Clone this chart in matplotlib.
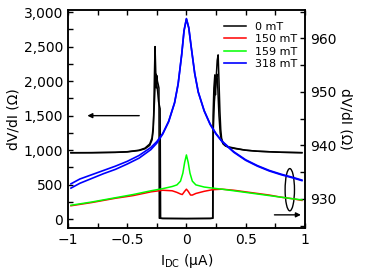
import numpy as np
import matplotlib
matplotlib.use('Agg')
import matplotlib.pyplot as plt
from matplotlib.patches import Ellipse
from matplotlib.ticker import MultipleLocator

# 0 mT, left axis, two sweeps
x_0mT_a = [-0.975, -0.8, -0.6, -0.5, -0.4, -0.35, -0.31, -0.29, -0.28, -0.275, -0.27, -0.265,
           -0.26, -0.255, -0.25, -0.245, -0.238, -0.232, -0.229, -0.2, 0.0, 0.2, 0.222,
           0.225, 0.232, 0.24, 0.245, 0.25, 0.26, 0.268, 0.275, 0.283, 0.29, 0.297,
           0.31, 0.325, 0.35, 0.41, 0.5, 0.6, 0.8, 0.975]
y_0mT_a = [962, 963, 968, 975, 995, 1020, 1070, 1150, 1300, 1600, 2100, 2500,
           2200, 1900, 2080, 2000, 1950, 1900, 15, 12, 10, 12, 15,
           1500, 1900, 2090, 1800, 2000, 2300, 2380, 2000, 1560, 1300, 1174,
           1100, 1077, 1050, 1029, 1000, 985, 970, 965]
x_0mT_b = [-0.975, -0.8, -0.6, -0.5, -0.4, -0.35, -0.31, -0.29, -0.28, -0.27, -0.262,
           -0.255, -0.25, -0.243, -0.235, -0.222, -0.218, -0.2, 0.0, 0.2, 0.224,
           0.227, 0.236, 0.245, 0.252, 0.258, 0.265, 0.275, 0.285, 0.295, 0.31,
           0.33, 0.36, 0.42, 0.5, 0.6, 0.8, 0.975]
y_0mT_b = [964, 965, 970, 978, 1000, 1030, 1090, 1180, 1350, 1700, 2050,
           2100, 1950, 1850, 1700, 1600, 15, 12, 10, 12, 15,
           1300, 1700, 1900, 2060, 2100, 1900, 1500, 1250, 1150, 1090,
           1060, 1040, 1020, 1000, 985, 970, 963]

# right axis curves
x_318 = [-0.975, -0.9, -0.8, -0.7, -0.6, -0.5, -0.4, -0.3, -0.25, -0.2, -0.15, -0.1, -0.07,
         -0.04, -0.02, 0.0, 0.02, 0.04, 0.07, 0.1, 0.15, 0.2, 0.25, 0.3, 0.4, 0.5, 0.6,
         0.7, 0.8, 0.9, 0.975]
y_318_a = [932.8, 933.7, 934.5, 935.3, 936.1, 937.0, 938.1, 939.6, 940.7, 942.2, 944.5, 948.0,
           951.5, 957.0, 961.5, 963.7, 962.0, 958.5, 953.5, 950.0, 946.5, 944.0, 942.2,
           940.8, 938.8, 937.3, 936.2, 935.3, 934.6, 934.0, 933.5]
y_318_b = [932.0, 932.9, 933.8, 934.7, 935.5, 936.5, 937.6, 939.2, 940.4, 942.1, 944.4, 947.9,
           951.4, 956.9, 961.4, 963.6, 961.9, 958.4, 953.4, 949.9, 946.4, 943.9, 942.1,
           940.7, 938.7, 937.2, 936.1, 935.2, 934.5, 933.9, 933.4]

x_150 = [-0.975, -0.8, -0.6, -0.45, -0.3, -0.2, -0.12, -0.08, -0.05, -0.035, -0.015, 0.0,
         0.015, 0.035, 0.05, 0.08, 0.15, 0.22, 0.3, 0.4, 0.5, 0.6, 0.7, 0.8, 0.9, 0.975]
y_150 = [928.7, 929.3, 930.1, 930.6, 931.3, 931.6, 931.5, 931.2, 930.9, 930.8, 931.4, 931.8,
         931.4, 930.7, 930.7, 931.0, 931.4, 931.7, 931.8, 931.6, 931.3, 931.0, 930.7,
         930.3, 930.0, 929.7]

x_159 = [-0.975, -0.8, -0.6, -0.45, -0.3, -0.2, -0.12, -0.08, -0.05, -0.03, -0.015, 0.0,
         0.015, 0.03, 0.05, 0.08, 0.15, 0.22, 0.3, 0.4, 0.5, 0.6, 0.7, 0.8, 0.9, 0.975]
y_159 = [928.8, 929.4, 930.2, 930.8, 931.5, 931.9, 932.3, 932.6, 933.3, 934.8, 936.8, 938.2,
         936.8, 934.8, 933.3, 932.6, 932.2, 932.0, 931.8, 931.5, 931.2, 930.9, 930.6,
         930.3, 930.0, 929.8]

xticks = [-1, -0.5, 0, 0.5, 1]
xticklabels = ['\u22121', '\u22120.5', '0', '0.5', '1']
yticks_left = [0, 500, 1000, 1500, 2000, 2500, 3000]
yticklabels_left = ['0', '500', '1,000', '1,500', '2,000', '2,500', '3,000']
yticks_right = [930, 940, 950, 960]

plt.rcParams['font.family'] = 'DejaVu Sans'
plt.rcParams['axes.linewidth'] = 1.1

fig = plt.figure(figsize=(3.82, 2.77), dpi=100)
ax = fig.add_axes([0.178, 0.178, 0.62, 0.786])
ax2 = ax.twinx()

l0, = ax.plot(x_0mT_a, y_0mT_a, color='black', lw=1.1, label='0 mT')
ax.plot(x_0mT_b, y_0mT_b, color='black', lw=1.1)

l1, = ax2.plot(x_150, y_150, color='red', lw=1.1, label='150 mT')
l2, = ax2.plot(x_159, y_159, color='lime', lw=1.1, label='159 mT')
l3, = ax2.plot(x_318, y_318_a, color='blue', lw=1.2, label='318 mT')
ax2.plot(x_318, y_318_b, color='blue', lw=1.2)

ax.set_xlim(-1, 1)
ax.set_ylim(-122, 3030)
ax2.set_ylim(924.6, 965.3)

ax.set_xticks(xticks)
ax.set_xticklabels(xticklabels)
ax.xaxis.set_minor_locator(MultipleLocator(0.25))
ax.set_yticks(yticks_left)
ax.set_yticklabels(yticklabels_left)
ax.yaxis.set_minor_locator(MultipleLocator(250))
ax2.set_yticks(yticks_right)
ax2.yaxis.set_minor_locator(MultipleLocator(5))

ax.tick_params(which='both', direction='in', top=True, labelsize=10, length=3.5, width=1)
ax2.tick_params(which='both', direction='in', labelsize=10, length=3.5, width=1)

ax.set_xlabel(r'I$_\mathrm{DC}$ ($\mathrm{\mu}$A)', fontsize=10, labelpad=4)
ax.set_ylabel('dV/dI (\u03a9)', fontsize=10, labelpad=2)
ax2.set_ylabel('dV/dI (\u03a9)', fontsize=10, rotation=270, labelpad=12)

ax.annotate('', xy=(-0.86, 1500), xytext=(-0.375, 1500),
            arrowprops=dict(arrowstyle='-|>', color='black', lw=1, mutation_scale=7))
ax2.annotate('', xy=(0.99, 927.0), xytext=(0.72, 927.0),
             arrowprops=dict(arrowstyle='-|>', color='black', lw=1, mutation_scale=7))
ax2.add_patch(Ellipse((0.873, 931.7), 0.079, 7.9, fill=False, edgecolor='black', lw=1))

ax2.legend(handles=[l0, l1, l2, l3], loc='upper right', frameon=False, fontsize=8,
           handlelength=2, handletextpad=0.75, labelspacing=0.2, borderaxespad=0.3,
           bbox_to_anchor=(1.0, 0.98))

fig.savefig('out.png', dpi=100)
